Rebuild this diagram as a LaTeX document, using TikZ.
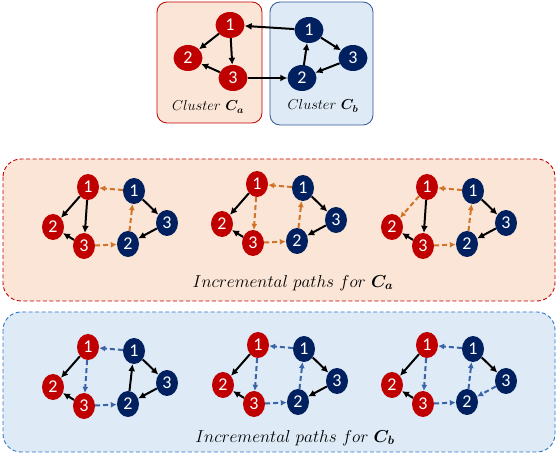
\documentclass[tikz,border=0pt]{standalone}
\usepackage{fontspec}
\usepackage{amsmath,bm}
\newfontfamily\numfont{Carlito}
\usetikzlibrary{shapes.geometric,arrows.meta}
\definecolor{nred}{HTML}{C00000}
\definecolor{nblue}{HTML}{002060}
\definecolor{porange}{HTML}{D0742A}
\definecolor{pblue}{HTML}{3A63A8}
\definecolor{peach}{HTML}{FBE5D6}
\definecolor{lblue}{HTML}{DEEBF7}
\definecolor{bblue}{HTML}{2E75C8}
\definecolor{cbblue}{HTML}{2F5597}
\tikzset{
  vnode/.style={ellipse,inner sep=0pt,minimum width=22pt,minimum height=26pt,text=white,font=\numfont\fontsize{18}{18}\selectfont},
  rn/.style={vnode,fill=nred},
  bn/.style={vnode,fill=nblue},
  bigrn/.style={rn,minimum width=29pt,minimum height=26pt},
  bigbn/.style={bn,minimum width=29pt,minimum height=26pt},
  blk/.style={draw=black,line width=2pt,-{Latex[length=7pt,width=7pt]}},
  ora/.style={draw=porange,line width=2pt,dash pattern=on 5pt off 3pt,-{Latex[length=6pt,width=6pt]}},
  blu/.style={draw=pblue,line width=2pt,dash pattern=on 5pt off 3pt,-{Latex[length=6pt,width=6pt]}},
  lbl/.style={font=\fontsize{14}{16}\selectfont},
  biglbl/.style={font=\fontsize{17}{19}\selectfont},
}
% #1 prefix, #2 x, #3 y, #4 r1->r2, #5 r1->r3, #6 b1->r1, #7 r3->b2, #8 b2->b1, #9 b3->b2
\newcommand\mygraph[9]{%
  \node[rn] (#1r1) at (#2,#3) {1};
  \node[rn] (#1r2) at (#2-35,#3+40) {2};
  \node[rn] (#1r3) at (#2-4,#3+59) {3};
  \node[bn] (#1b1) at (#2+46,#3+4) {1};
  \node[bn] (#1b3) at (#2+79,#3+36) {3};
  \node[bn] (#1b2) at (#2+40,#3+57) {2};
  \draw[#4] (#1r1) -- (#1r2);
  \draw[#5] (#1r1) -- (#1r3);
  \draw[blk] (#1r3) -- (#1r2);
  \draw[#6] (#1b1) -- (#1r1);
  \draw[#7] (#1r3) -- (#1b2);
  \draw[#8] (#1b2) -- (#1b1);
  \draw[blk] (#1b1) -- (#1b3);
  \draw[#9] (#1b3) -- (#1b2);
}
\begin{document}
\begin{tikzpicture}[x=1pt,y=-1pt]
\useasboundingbox (0,0) rectangle (558,454);
% top clusters
\draw[draw=nred,fill=peach,line width=0.8pt,rounded corners=10pt] (157,2) rectangle (262,123);
\draw[draw=cbblue,fill=lblue,line width=0.8pt,rounded corners=10pt] (270,2) rectangle (373,125);
\node[bigrn] (tr1) at (230,25) {1};
\node[bigrn] (tr2) at (188,58) {2};
\node[bigrn] (tr3) at (233,78) {3};
\node[bigbn] (tb1) at (309,30) {1};
\node[bigbn] (tb3) at (353,58) {3};
\node[bigbn] (tb2) at (302,78) {2};
\draw[blk] (tr1) -- (tr2);
\draw[blk] (tr1) -- (tr3);
\draw[blk] (tr3) -- (tr2);
\draw[blk] (tb1) -- (tr1);
\draw[blk] (tr3) -- (tb2);
\draw[blk] (tb2) -- (tb1);
\draw[blk] (tb1) -- (tb3);
\draw[blk] (tb3) -- (tb2);
\node[lbl] (ca) at (208,107) {$Cluster\ \bm{C_a}$};
\node[lbl] (cb) at (323,106) {$Cluster\ \bm{C_b}$};
% middle panel
\draw[draw=nred,fill=peach,line width=0.9pt,dash pattern=on 4pt off 2.5pt,rounded corners=18pt] (3,159) rectangle (555,301);
\mygraph{ma}{88}{187}{blk}{blk}{ora}{ora}{ora}{blk}
\mygraph{mb}{257}{184}{blk}{ora}{ora}{ora}{ora}{blk}
\mygraph{mc}{427}{187}{ora}{blk}{ora}{ora}{ora}{blk}
\node[biglbl] (la) at (293,283) {$Incremental\ paths\ for\ \bm{C_a}$};
% bottom panel
\draw[draw=bblue,fill=lblue,line width=0.9pt,dash pattern=on 4pt off 2.5pt,rounded corners=18pt] (3,312) rectangle (555,452);
\mygraph{ba}{88}{347}{blk}{blu}{blu}{blu}{blk}{blk}
\mygraph{bb}{258}{345}{blk}{blu}{blu}{blu}{blu}{blk}
\mygraph{bc}{427}{345}{blk}{blu}{blu}{blu}{blu}{blu}
\node[biglbl] (lb) at (295,438) {$Incremental\ paths\ for\ \bm{C_b}$};
\end{tikzpicture}
\end{document}
